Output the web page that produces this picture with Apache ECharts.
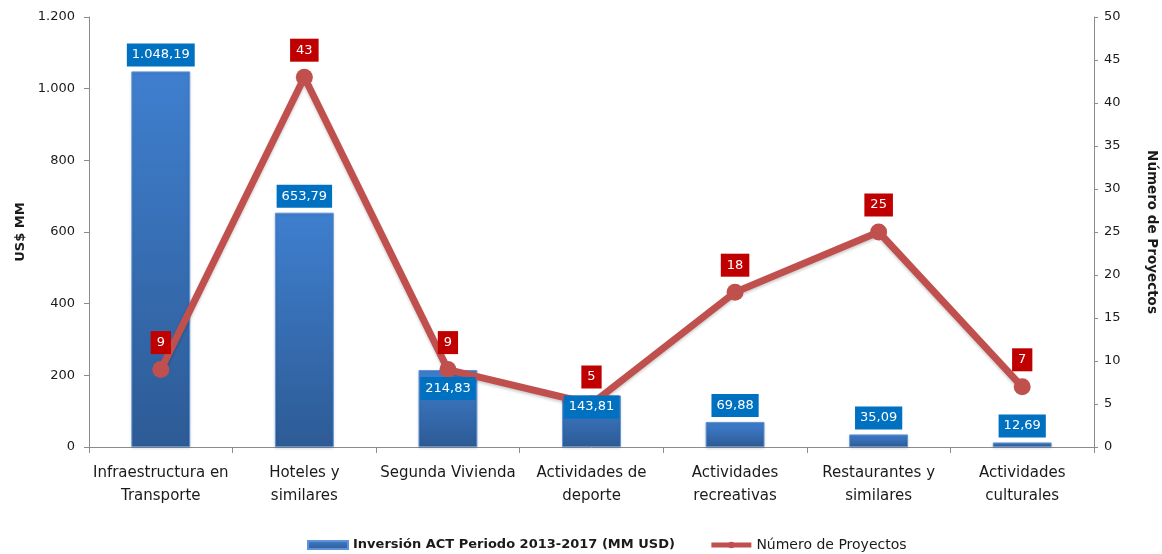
<!DOCTYPE html>
<html>
<head>
<meta charset="utf-8">
<script src="https://cdn.jsdelivr.net/npm/echarts@6/dist/echarts.min.js"></script>
<style>
  html, body { margin: 0; padding: 0; background: #fff; }
  #main { width: 1162px; height: 554px; }
</style>
</head>
<body>
<div id="main"></div>
<script>
// datos
var categorias = ['Infraestructura en\nTransporte', 'Hoteles y\nsimilares', 'Segunda Vivienda',
    'Actividades de\ndeporte', 'Actividades\nrecreativas', 'Restaurantes y\nsimilares', 'Actividades\nculturales'];
var inversion = [1048.19, 653.79, 214.83, 143.81, 69.88, 35.09, 12.69];
var proyectos = [9, 43, 9, 5, 18, 25, 7];
var ticksUsd = [0, 200, 400, 600, 800, 1000, 1200];

var FONT = 'DejaVu Sans';
var SERIE_BAR = 'Inversión ACT Periodo 2013-2017 (MM USD)';
var SERIE_LINE = 'Número de Proyectos';

function miles(v) {
    return String(v).replace(/\B(?=(\d{3})+(?!\d))/g, '.');
}
function numEs(v) {
    var p = v.toFixed(2).split('.');
    return miles(p[0]) + ',' + p[1];
}

var chart = echarts.init(document.getElementById('main'));

// etiquetas de barra en una serie transparente encima de la linea
var labelData = inversion.map(function (v, i) {
    var item = { value: v };
    if (i === 2) item.label = { position: 'insideTop', distance: 7 };
    if (i === 3) item.label = { position: 'insideTop', distance: 0 };
    return item;
});

var option = {
    backgroundColor: '#fff',
    textStyle: { fontFamily: FONT },
    grid: { left: 89, right: 68, top: 17, bottom: 107, outerBoundsMode: 'none', containLabel: false },
    legend: {
        top: 533,
        left: 302,
        itemGap: 34,
        itemWidth: 40,
        itemHeight: 8,
        textStyle: { fontFamily: FONT, fontSize: 13, color: '#1a1a1a' },
        data: [
            { name: SERIE_BAR, icon: 'rect', textStyle: { fontWeight: 'bold', fontSize: 13 } },
            { name: SERIE_LINE, lineStyle: { width: 5 }, textStyle: { fontSize: 14 } }
        ]
    },
    xAxis: {
        type: 'category',
        data: categorias,
        axisLine: { lineStyle: { color: '#8c8c8c', width: 1 } },
        axisTick: { show: true, length: 6, lineStyle: { color: '#8c8c8c' } },
        axisLabel: { color: '#1a1a1a', fontSize: 15, lineHeight: 23, margin: 15, interval: 0 }
    },
    yAxis: [{
        type: 'value',
        min: 0, max: 1200, interval: 200,
        name: 'US$ MM',
        nameLocation: 'middle',
        nameGap: 54,
        nameTextStyle: { fontSize: 13, fontWeight: 'bold', color: '#1a1a1a' },
        splitLine: { show: false },
        axisLine: { show: true, lineStyle: { color: '#8c8c8c' } },
        axisTick: { show: true, length: 5, lineStyle: { color: '#8c8c8c' } },
        axisLabel: {
            color: '#1a1a1a', fontSize: 13, margin: 14,
            formatter: function (v) { return ticksUsd.indexOf(v) >= 0 ? miles(v) : ''; }
        }
    }, {
        type: 'value',
        min: 0, max: 50, interval: 5,
        name: SERIE_LINE,
        nameLocation: 'middle',
        nameRotate: -90,
        nameGap: 50,
        nameTextStyle: { fontSize: 13.5, fontWeight: 'bold', color: '#1a1a1a' },
        splitLine: { show: false },
        axisLine: { show: true, lineStyle: { color: '#8c8c8c' } },
        axisTick: { show: true, length: 4, lineStyle: { color: '#8c8c8c' } },
        axisLabel: { color: '#1a1a1a', fontSize: 13, margin: 10 }
    }],
    series: [{
        name: SERIE_BAR,
        type: 'bar',
        yAxisIndex: 0,
        barWidth: '41%',
        data: inversion,
        z: 2,
        itemStyle: {
            color: new echarts.graphic.LinearGradient(0, 0, 0, 1, [
                { offset: 0, color: '#3f7fcf' },
                { offset: 1, color: '#2d5b95' }
            ]),
            borderColor: '#5f93d6',
            borderWidth: 1,
            shadowColor: 'rgba(0,0,0,0.15)',
            shadowBlur: 3,
            shadowOffsetY: 1
        }
    }, {
        name: SERIE_LINE,
        type: 'line',
        yAxisIndex: 1,
        data: proyectos,
        symbol: 'circle',
        symbolSize: 17,
        z: 3,
        lineStyle: { color: '#c0504d', width: 7, shadowColor: 'rgba(0,0,0,0.2)', shadowBlur: 3, shadowOffsetY: 2 },
        itemStyle: { color: '#c0504d' },
        label: {
            show: true,
            position: 'top',
            distance: 7,
            color: '#fff',
            fontSize: 13,
            backgroundColor: '#c00000',
            padding: [5, 6]
        }
    }, {
        name: SERIE_BAR,
        type: 'bar',
        yAxisIndex: 0,
        barWidth: '41%',
        barGap: '-100%',
        data: labelData,
        z: 5,
        silent: true,
        itemStyle: { color: 'rgba(0,0,0,0)' },
        label: {
            show: true,
            position: 'top',
            distance: 5,
            color: '#fff',
            fontSize: 13,
            backgroundColor: '#0070c0',
            padding: [5, 5],
            formatter: function (p) { return numEs(p.value); }
        }
    }]
};

chart.setOption(option);
</script>
</body>
</html>
